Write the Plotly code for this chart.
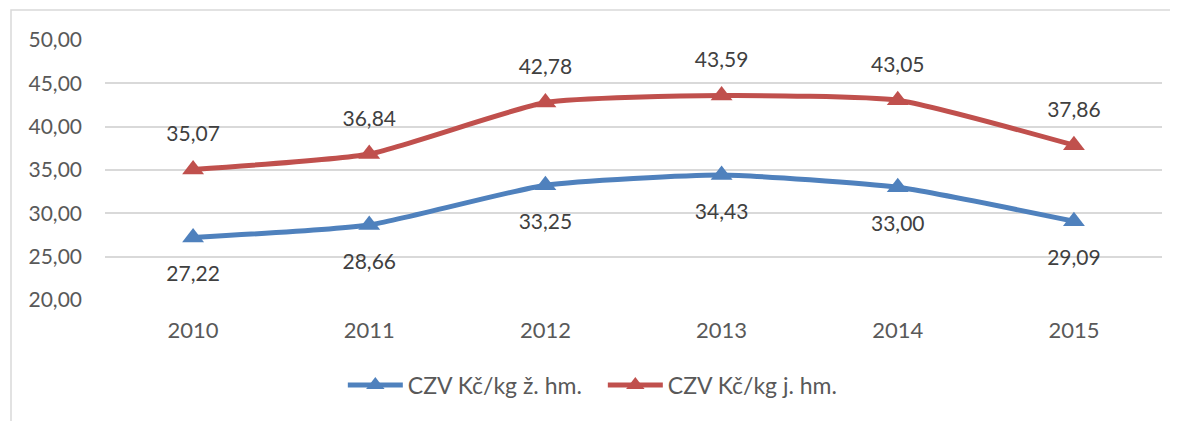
import plotly.graph_objects as go

years = ["2010", "2011", "2012", "2013", "2014", "2015"]
zive = [27.22, 28.66, 33.25, 34.43, 33.00, 29.09]
jatecne = [35.07, 36.84, 42.78, 43.59, 43.05, 37.86]
name_zive = "CZV Kč/kg ž. hm."
name_jat = "CZV Kč/kg j. hm."
blue = "#4F81BD"
red = "#C0504D"
font_family = "Lato, 'Open Sans', sans-serif"
txt = "#595959"
lbl = "#404040"

def fmt(v):
    return f"{v:.2f}".replace(".", ",")

fig = go.Figure()
fig.add_trace(go.Scatter(x=years, y=zive, name=name_zive, mode="lines+markers",
                         line=dict(color=blue, width=5, shape="spline", smoothing=0.5),
                         marker=dict(symbol="triangle-up", size=19, color=blue)))
fig.add_trace(go.Scatter(x=years, y=jatecne, name=name_jat, mode="lines+markers",
                         line=dict(color=red, width=5, shape="spline", smoothing=0.5),
                         marker=dict(symbol="triangle-up", size=19, color=red)))

# data labels (invisible markers control the label offset)
fig.add_trace(go.Scatter(x=years, y=zive, mode="markers+text", text=[fmt(v) for v in zive],
                         textposition="bottom center", showlegend=False, hoverinfo="skip",
                         marker=dict(size=43, color="rgba(0,0,0,0)"),
                         textfont=dict(family=font_family, size=21, color=lbl)))
fig.add_trace(go.Scatter(x=years, y=jatecne, mode="markers+text", text=[fmt(v) for v in jatecne],
                         textposition="top center", showlegend=False, hoverinfo="skip",
                         marker=dict(size=35, color="rgba(0,0,0,0)"),
                         textfont=dict(family=font_family, size=21, color=lbl)))

# outer chart border
fig.add_shape(type="rect", xref="paper", yref="paper",
              x0=(3 - 97) / 1057, x1=(1180 - 97) / 1057,
              y0=(292 - 430) / 260, y1=(292 - 2) / 260,
              line=dict(color="#D9D9D9", width=1.5), layer="below")

fig.update_layout(
    width=1170, height=413,
    margin=dict(l=97, r=16, t=32, b=121, autoexpand=False),
    paper_bgcolor="white", plot_bgcolor="white",
    font=dict(family=font_family, size=21, color=txt),
    showlegend=True,
    separators=", ",
    legend=dict(orientation="h", x=0.225, xanchor="left", y=-0.327, yanchor="middle",
                font=dict(size=23, color=txt), itemwidth=55, traceorder="normal",
                entrywidth=190, entrywidthmode="pixels"),
)
fig.update_xaxes(type="category", range=[-0.5, 5.5], showgrid=False, showline=False,
                 ticks="", tickfont=dict(size=22, color=txt), ticklabelstandoff=15)
fig.update_yaxes(range=[20, 50], dtick=5, tick0=20, showgrid=True, gridcolor="#D9D9D9",
                 gridwidth=1.5, zeroline=False, showline=False, ticks="",
                 tickformat=".2f", tickfont=dict(size=21, color=txt),
                 ticklabelstandoff=22)

fig.write_html("out.html")
